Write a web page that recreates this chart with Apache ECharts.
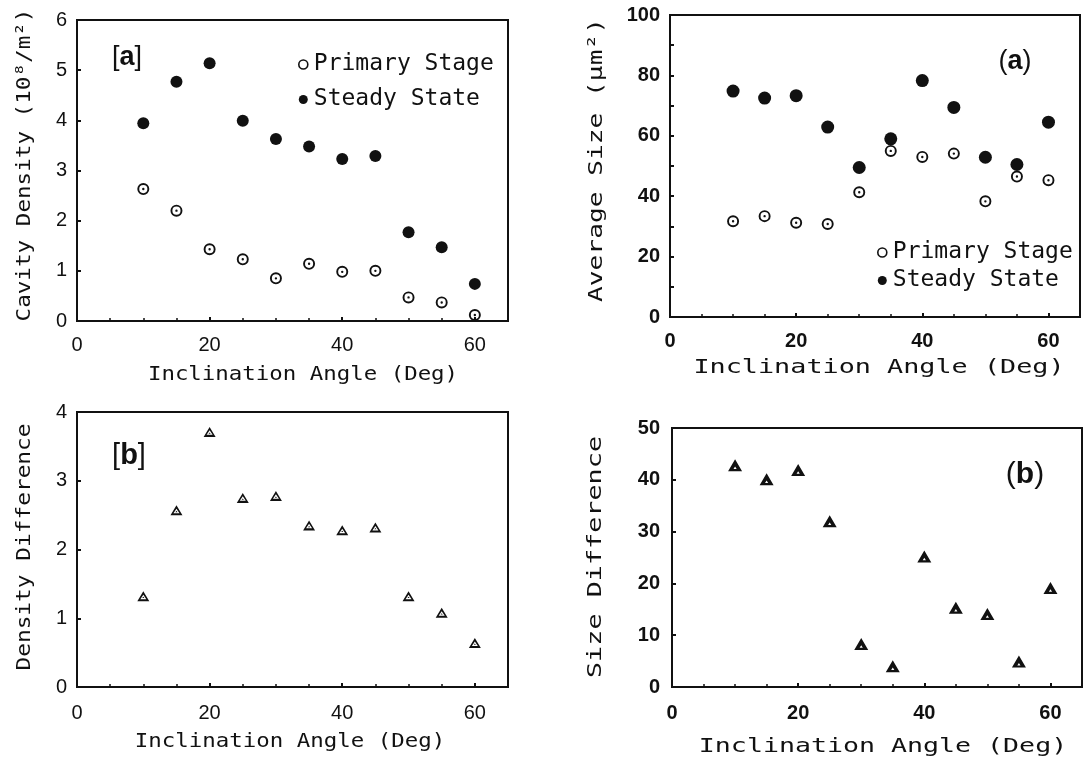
<!DOCTYPE html>
<html>
<head>
<meta charset="utf-8">
<script src="https://cdn.jsdelivr.net/npm/echarts@6/dist/echarts.min.js"></script>
<style>html,body{margin:0;padding:0;background:#fff}#c{width:1084px;height:760px}</style>
</head>
<body>
<div id="c"></div>
<script>
const angles = [10, 15, 20, 25, 30, 35, 40, 45, 50, 55, 60];
const densityPrimary = [2.63, 2.20, 1.43, 1.23, 0.85, 1.14, 0.98, 1.00, 0.47, 0.37, 0.12];
const densitySteady = [3.94, 4.77, 5.14, 3.99, 3.63, 3.48, 3.23, 3.29, 1.77, 1.47, 0.74];
const sizePrimary = [31.7, 33.4, 31.2, 30.8, 41.3, 55.0, 53.0, 54.1, 38.3, 46.5, 45.3];
const sizeSteady = [74.8, 72.5, 73.3, 62.9, 49.5, 59.0, 78.3, 69.4, 52.9, 50.5, 64.5];
const densityDiff = [1.32, 2.57, 3.71, 2.75, 2.78, 2.35, 2.28, 2.32, 1.32, 1.08, 0.64];
const sizeDiff = [42.8, 40.1, 41.9, 32.0, 8.3, 4.0, 25.2, 15.3, 14.1, 4.9, 19.1];
const seriesNames = ['Primary Stage', 'Steady State'];
const xName = 'Inclination Angle (Deg)';
const yNames = ['Cavity Density (10⁸/m²)', 'Average Size (μm²)', 'Density Difference', 'Size Difference'];

const pairs = ys => angles.map((a, i) => [a, ys[i]]);
const INK = '#111';
const mono = 'DejaVu Sans Mono';
const ringDot = 'path://M0,-10A10,10 0 1,1 0,10A10,10 0 1,1 0,-10ZM0,-6.8A6.8,6.8 0 1,0 0,6.8A6.8,6.8 0 1,0 0,-6.8ZM0,-2A2,2 0 1,1 0,2A2,2 0 1,1 0,-2Z';
const triOpen = 'path://M0,-10L11,9L-11,9ZM0,-3.5L-5.5,5L5.5,5ZM0,0.5L2,3L-2,3Z';
const triFill = 'path://M0,-10L11,9L-11,9ZM0,1.5L-2.5,5.5L2.5,5.5Z';

const chart = echarts.init(document.getElementById('c'), null, {renderer: 'canvas'});

function xAxis(gi, bold, margin) {
  return {
    type: 'value', gridIndex: gi, min: 0, max: 65, interval: 20,
    axisLine: {show: true, lineStyle: {color: INK, width: 2}},
    axisTick: {show: true, inside: true, length: 4, lineStyle: {color: INK, width: 2}},
    minorTick: {show: true, splitNumber: 4, length: 3, lineStyle: {color: INK, width: 1.5}},
    splitLine: {show: false},
    axisLabel: {showMaxLabel: false, color: INK, fontFamily: 'Liberation Sans', fontSize: 20,
      fontWeight: bold ? 'bold' : 'normal', margin: margin}
  };
}
function yAxis(gi, max, interval, minorSplit, bold, margin) {
  return {
    type: 'value', gridIndex: gi, min: 0, max: max, interval: interval,
    axisLine: {show: true, lineStyle: {color: INK, width: 2}},
    axisTick: {show: true, inside: true, length: 4, lineStyle: {color: INK, width: 2}},
    minorTick: {show: minorSplit > 1, splitNumber: minorSplit, length: 4, lineStyle: {color: INK, width: 2}},
    splitLine: {show: false},
    axisLabel: {color: INK, fontFamily: 'Liberation Sans', fontSize: 20,
      fontWeight: bold ? 'bold' : 'normal', margin: margin}
  };
}
const gridStyle = {show: true, borderColor: INK, borderWidth: 2, backgroundColor: 'transparent'};

function legendAt(left, top, gap) {
  return {
    left: left, top: top, orient: 'vertical', itemGap: gap, itemWidth: 9, itemHeight: 9,
    selectedMode: false,
    textStyle: {fontFamily: mono, fontSize: 23, color: INK, padding: [0, 0, 0, 1]},
    data: [
      {name: seriesNames[0], icon: 'circle', itemStyle: {color: '#fff', borderColor: INK, borderWidth: 1.6}},
      {name: seriesNames[1], icon: 'circle', itemStyle: {color: INK, borderWidth: 0}}
    ]
  };
}

function txt(x, y, text, size, scaleX, rot) {
  return {
    type: 'text', x: x, y: y, rotation: rot || 0, scaleX: scaleX, silent: true,
    style: {text: text, font: size + 'px "' + mono + '"', fill: INK,
      textAlign: 'center', textVerticalAlign: 'middle', align: 'center', verticalAlign: 'middle'}
  };
}
function tag(x, y, open, letter, close, size) {
  return {
    type: 'text', x: x, y: y, silent: true,
    style: {
      text: '{n|' + open + '}{b|' + letter + '}{n|' + close + '}',
      textAlign: 'center', textVerticalAlign: 'middle', align: 'center', verticalAlign: 'middle',
      rich: {
        n: {fontFamily: 'Liberation Sans', fontSize: size, fontWeight: 'normal', fill: INK, color: INK},
        b: {fontFamily: 'Liberation Sans', fontSize: size, fontWeight: 'bold', fill: INK, color: INK}
      }
    }
  };
}

const option = {
  backgroundColor: '#fff',
  animation: false,
  grid: [
    Object.assign({left: 77, top: 20, width: 431, height: 301}, gridStyle),
    Object.assign({left: 670, top: 15, width: 410, height: 302}, gridStyle),
    Object.assign({left: 77, top: 412, width: 431, height: 275}, gridStyle),
    Object.assign({left: 672, top: 428, width: 410, height: 259}, gridStyle)
  ],
  xAxis: [xAxis(0, false, 14), xAxis(1, true, 14), xAxis(2, false, 16), xAxis(3, true, 16)],
  yAxis: [yAxis(0, 6, 1, 1, false, 10), yAxis(1, 100, 20, 2, true, 10),
          yAxis(2, 4, 1, 1, false, 10), yAxis(3, 50, 10, 1, true, 12)],
  legend: [legendAt(293, 48, 12), legendAt(872, 236, 5)],
  series: [
    {name: seriesNames[0], type: 'scatter', xAxisIndex: 0, yAxisIndex: 0, data: pairs(densityPrimary),
      symbol: ringDot, symbolSize: 12, itemStyle: {color: INK, opacity: 1}},
    {name: seriesNames[1], type: 'scatter', xAxisIndex: 0, yAxisIndex: 0, data: pairs(densitySteady),
      symbol: 'circle', symbolSize: 12, itemStyle: {color: INK, opacity: 1}},
    {name: seriesNames[0], type: 'scatter', xAxisIndex: 1, yAxisIndex: 1, data: pairs(sizePrimary),
      symbol: ringDot, symbolSize: 12, itemStyle: {color: INK, opacity: 1}},
    {name: seriesNames[1], type: 'scatter', xAxisIndex: 1, yAxisIndex: 1, data: pairs(sizeSteady),
      symbol: 'circle', symbolSize: 13, itemStyle: {color: INK, opacity: 1}},
    {name: 'Density Difference', type: 'scatter', xAxisIndex: 2, yAxisIndex: 2, data: pairs(densityDiff),
      symbol: triOpen, symbolSize: [12, 10], itemStyle: {color: INK, opacity: 1}},
    {name: 'Size Difference', type: 'scatter', xAxisIndex: 3, yAxisIndex: 3, data: pairs(sizeDiff),
      symbol: triFill, symbolSize: [14, 12], itemStyle: {color: INK, opacity: 1}}
  ],
  graphic: [
    txt(303, 375, xName, 20, 1.12),
    txt(879, 368, xName, 20, 1.34),
    txt(290, 742, xName, 19, 1.18),
    txt(883, 747, xName, 20, 1.33),
    txt(25, 165, yNames[0], 20, 1.13, Math.PI / 2),
    txt(597, 160, yNames[1], 20, 1.31, Math.PI / 2),
    txt(25, 547, yNames[2], 19, 1.2, Math.PI / 2),
    txt(596, 557, yNames[3], 20, 1.34, Math.PI / 2),
    tag(127, 58, '[', 'a', ']', 27),
    tag(1015, 62, '(', 'a', ')', 27),
    tag(129, 456, '[', 'b', ']', 29),
    tag(1025, 475, '(', 'b', ')', 30)
  ]
};
chart.setOption(option);
</script>
</body>
</html>
